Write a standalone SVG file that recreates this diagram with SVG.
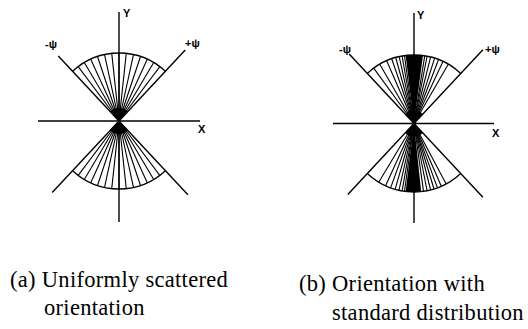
<svg xmlns="http://www.w3.org/2000/svg" xmlns:xlink="http://www.w3.org/1999/xlink" width="528" height="329" viewBox="0 0 528 329">
<style>
.ax{stroke:#000;stroke-width:1.4;fill:none}
.ray{stroke:#000;stroke-width:1.1;fill:none}
.arc{stroke:#000;stroke-width:1.3;fill:none}
.blk{fill:#000;stroke:none}
.lbl{font-family:"Liberation Sans",Arial,sans-serif;font-size:11px;font-weight:bold;fill:#000}
.cap{font-family:"Liberation Serif","Times New Roman",serif;font-size:22.5px;letter-spacing:0.3px;fill:#000}
</style>
<defs>
<line id="r1" class="ray" x1="0" y1="0" x2="0" y2="-68"/>
<line id="r2" class="ray" x1="0" y1="0" x2="0" y2="-68.5"/>
</defs>
<rect width="528" height="329" fill="#fff"/>

<g id="panel-a" transform="translate(119,121)">
  <g id="a-axes">
    <line class="ax" x1="0" y1="-109" x2="0" y2="101"/>
    <line class="ax" x1="-81" y1="0" x2="81" y2="0"/>
    <line class="ax" x1="-60.7" y1="-65.1" x2="0" y2="0"/>
    <line class="ax" x1="66.2" y1="-70.9" x2="0" y2="0"/>
    <line class="ax" x1="-66.8" y1="71.6" x2="0" y2="0"/>
    <line class="ax" x1="68.9" y1="73.8" x2="0" y2="0"/>
  </g>
  <g id="a-upper">
    <path class="arc" d="M-46.38 -49.73 A68 68 0 0 1 46.38 -49.73"/>
    <path class="blk" d="M0 0 L-8.87 -9.51 A13 13 0 0 1 8.87 -9.51Z"/>
    <use xlink:href="#r1" transform="rotate(-36.86)"/>
    <use xlink:href="#r1" transform="rotate(-30.71)"/>
    <use xlink:href="#r1" transform="rotate(-24.57)"/>
    <use xlink:href="#r1" transform="rotate(-18.43)"/>
    <use xlink:href="#r1" transform="rotate(-12.29)"/>
    <use xlink:href="#r1" transform="rotate(-6.14)"/>
    <use xlink:href="#r1"/>
    <use xlink:href="#r1" transform="rotate(6.14)"/>
    <use xlink:href="#r1" transform="rotate(12.29)"/>
    <use xlink:href="#r1" transform="rotate(18.43)"/>
    <use xlink:href="#r1" transform="rotate(24.57)"/>
    <use xlink:href="#r1" transform="rotate(30.71)"/>
    <use xlink:href="#r1" transform="rotate(36.86)"/>
  </g>
  <g id="a-lower" transform="scale(1,-1)">
    <path class="arc" d="M-46.38 -49.73 A68 68 0 0 1 46.38 -49.73"/>
    <path class="blk" d="M0 0 L-8.87 -9.51 A13 13 0 0 1 8.87 -9.51Z"/>
    <use xlink:href="#r1" transform="rotate(-36.86)"/>
    <use xlink:href="#r1" transform="rotate(-30.71)"/>
    <use xlink:href="#r1" transform="rotate(-24.57)"/>
    <use xlink:href="#r1" transform="rotate(-18.43)"/>
    <use xlink:href="#r1" transform="rotate(-12.29)"/>
    <use xlink:href="#r1" transform="rotate(-6.14)"/>
    <use xlink:href="#r1"/>
    <use xlink:href="#r1" transform="rotate(6.14)"/>
    <use xlink:href="#r1" transform="rotate(12.29)"/>
    <use xlink:href="#r1" transform="rotate(18.43)"/>
    <use xlink:href="#r1" transform="rotate(24.57)"/>
    <use xlink:href="#r1" transform="rotate(30.71)"/>
    <use xlink:href="#r1" transform="rotate(36.86)"/>
  </g>
</g>
<g id="labels-a">
  <text class="lbl" x="123" y="17">Y</text>
  <text class="lbl" x="198" y="133">X</text>
  <text class="lbl" x="45" y="48">-ψ</text>
  <text class="lbl" x="185" y="47">+ψ</text>
</g>

<g id="panel-b" transform="translate(414,123.5)">
  <g id="b-axes">
    <line class="ax" x1="0" y1="-110.5" x2="0" y2="99.5"/>
    <line class="ax" x1="-81" y1="0" x2="80" y2="0"/>
    <line class="ax" x1="-64.8" y1="-69.4" x2="0" y2="0"/>
    <line class="ax" x1="68.9" y1="-73.8" x2="0" y2="0"/>
    <line class="ax" x1="-66.2" y1="70.9" x2="0" y2="0"/>
    <line class="ax" x1="68.9" y1="73.8" x2="0" y2="0"/>
  </g>
  <g id="b-upper">
    <path class="arc" d="M-46.72 -50.10 A68.5 68.5 0 0 1 46.72 -50.10"/>
    <path class="blk" d="M0 0 L-8.35 -67.99 A68.5 68.5 0 0 1 8.94 -67.91Z"/>
    <path class="blk" d="M0 0 L-8.87 -9.51 A13 13 0 0 1 8.87 -9.51Z"/>
    <use xlink:href="#r2" transform="rotate(-36)"/>
    <use xlink:href="#r2" transform="rotate(-30)"/>
    <use xlink:href="#r2" transform="rotate(-23.5)"/>
    <use xlink:href="#r2" transform="rotate(-19)"/>
    <use xlink:href="#r2" transform="rotate(-15.5)"/>
    <use xlink:href="#r2" transform="rotate(-12.5)"/>
    <use xlink:href="#r2" transform="rotate(-10)"/>
    <use xlink:href="#r2" transform="rotate(-8)"/>
    <use xlink:href="#r2" transform="rotate(9)"/>
    <use xlink:href="#r2" transform="rotate(11)"/>
    <use xlink:href="#r2" transform="rotate(14)"/>
    <use xlink:href="#r2" transform="rotate(17.5)"/>
    <use xlink:href="#r2" transform="rotate(21)"/>
    <use xlink:href="#r2" transform="rotate(25)"/>
    <use xlink:href="#r2" transform="rotate(30)"/>
  </g>
  <g id="b-lower" transform="scale(1,-1)">
    <path class="arc" d="M-46.72 -50.10 A68.5 68.5 0 0 1 46.72 -50.10"/>
    <path class="blk" d="M0 0 L-8.35 -67.99 A68.5 68.5 0 0 1 7.16 -68.12Z"/>
    <path class="blk" d="M0 0 L-8.87 -9.51 A13 13 0 0 1 8.87 -9.51Z"/>
    <use xlink:href="#r2" transform="rotate(-31)"/>
    <use xlink:href="#r2" transform="rotate(-24.5)"/>
    <use xlink:href="#r2" transform="rotate(-20)"/>
    <use xlink:href="#r2" transform="rotate(-16)"/>
    <use xlink:href="#r2" transform="rotate(-12.7)"/>
    <use xlink:href="#r2" transform="rotate(-10)"/>
    <use xlink:href="#r2" transform="rotate(-8)"/>
    <use xlink:href="#r2" transform="rotate(8)"/>
    <use xlink:href="#r2" transform="rotate(11)"/>
    <use xlink:href="#r2" transform="rotate(14)"/>
    <use xlink:href="#r2" transform="rotate(17)"/>
    <use xlink:href="#r2" transform="rotate(20)"/>
    <use xlink:href="#r2" transform="rotate(23.5)"/>
    <use xlink:href="#r2" transform="rotate(28)"/>
  </g>
</g>
<g id="labels-b">
  <text class="lbl" x="417" y="19">Y</text>
  <text class="lbl" x="492" y="137">X</text>
  <text class="lbl" x="339" y="53">-ψ</text>
  <text class="lbl" x="485" y="53">+ψ</text>
</g>

<g id="captions">
  <text class="cap" x="10" y="287">(a) Uniformly scattered</text>
  <text class="cap" x="44" y="315">orientation</text>
  <text class="cap" x="299" y="291">(b) Orientation with</text>
  <text class="cap" x="332" y="320">standard distribution</text>
</g>
</svg>
